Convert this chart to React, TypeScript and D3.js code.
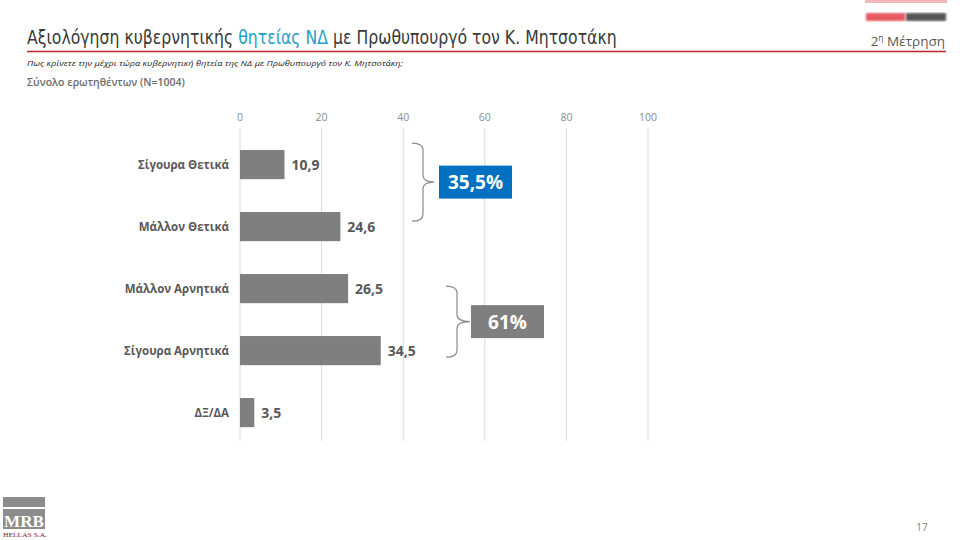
import * as d3 from "d3"

const categories = ["Σίγουρα Θετικά", "Μάλλον Θετικά", "Μάλλον Αρνητικά", "Σίγουρα Αρνητικά", "ΔΞ/ΔΑ"]
const values = [10.9, 24.6, 26.5, 34.5, 3.5]
const ticks = [0, 20, 40, 60, 80, 100]
const groups = [
  { label: "35,5%", from: 0, to: 1, fill: "#0070c0" },
  { label: "61%", from: 2, to: 3, fill: "#7f7f7f" },
]

const fmt = (v: number) => v.toFixed(1).replace(".", ",")

const brace = (x0: number, xv: number, xt: number, y0: number, y1: number) => {
  const mid = (y0 + y1) / 2
  const r = 7
  return `M${x0},${y0} Q${xv},${y0} ${xv},${y0 + r} L${xv},${mid - r} Q${xv},${mid} ${xt},${mid} Q${xv},${mid} ${xv},${mid + r} L${xv},${y1 - r} Q${xv},${y1} ${x0},${y1}`
}

const App = () => {
  const x = d3.scaleLinear().domain([0, 100]).range([240, 648])
  const y = d3.scaleBand().domain(categories).range([133.6, 443.6]).paddingInner(0.53).paddingOuter(0.265)
  const bw = y.bandwidth()
  const font = "'Open Sans', 'Noto Sans', sans-serif"
  const narrow = "'Liberation Sans Narrow', 'DejaVu Sans Condensed', sans-serif"

  // bracket geometry per group
  const braces = [
    { x0: 412, xv: 423, xt: 434, y0: y(categories[0])! - 7, y1: y(categories[1])! + bw - 20, bx: 439, bw: 73 },
    { x0: 446, xv: 457, xt: 470, y0: y(categories[2])! + 12, y1: y(categories[3])! + bw - 8, bx: 471, bw: 73 },
  ]

  return (
    <svg width={960} height={540} style={{ position: "absolute", left: 0, top: 0, background: "#fff" }} fontFamily={font}>
      <defs>
        <filter id="blur">
          <feGaussianBlur stdDeviation={1.2} />
        </filter>
      </defs>
      {/* header, squeezed to the narrow title face */}
      <g transform="translate(27,44) scale(0.873,1)">
        <text x={0} y={0} fontSize={20} fontFamily={narrow} fill="#3a3a3a">
          Αξιολόγηση κυβερνητικής <tspan fill="#1ea0c8">θητείας ΝΔ</tspan> με Πρωθυπουργό τον Κ. Μητσοτάκη
        </text>
      </g>
      <line x1={27} x2={946} y1={51.5} y2={51.5} stroke="#b22a2a" strokeWidth={1.6} />
      <rect x={865} y={0} width={82} height={3} fill="#f0b8b8" />
      <g filter="url(#blur)">
        <rect x={866} y={13} width={39} height={8} fill="#e0303a" opacity={0.8} />
        <rect x={906} y={13} width={40} height={8} fill="#2a2a2a" opacity={0.8} />
      </g>
      <text x={945} y={46} textAnchor="end" fontSize={13.5} fill="#595959">
        2<tspan fontSize={8.5} dy={-5}>η</tspan><tspan dy={5}> Μέτρηση</tspan>
      </text>
      <text x={27} y={66} fontSize={8} fontStyle="italic" fill="#222" textLength={376} lengthAdjust="spacingAndGlyphs">
        Πως κρίνετε την μέχρι τώρα κυβερνητική θητεία της ΝΔ με Πρωθυπουργό τον Κ. Μητσοτάκη;
      </text>
      <text x={27} y={86} fontSize={10.5} fontWeight={600} fill="#6b6b6b">
        Σύνολο ερωτηθέντων (Ν=1004)
      </text>

      {/* grid + ticks */}
      {ticks.map((t) => (
        <g key={t}>
          <line x1={x(t)} x2={x(t)} y1={128} y2={441} stroke="#d9d9d9" strokeWidth={1} />
          <text x={x(t)} y={121} textAnchor="middle" fontSize={10.5} fill="#8c8c8c">
            {t}
          </text>
        </g>
      ))}

      {/* bars */}
      {categories.map((c, i) => (
        <g key={c}>
          <text x={229} y={y(c)! + bw / 2 + 4} textAnchor="end" fontSize={11.5} fontWeight="bold" fill="#595959">
            {c}
          </text>
          <rect x={x(0)} y={y(c)} width={x(values[i]) - x(0)} height={bw} fill="#7f7f7f" />
          <text x={x(values[i]) + 7} y={y(c)! + bw / 2 + 5} fontSize={14} fontWeight="bold" fill="#595959">
            {fmt(values[i])}
          </text>
        </g>
      ))}

      {/* group brackets */}
      {groups.map((g, i) => {
        const b = braces[i]
        const mid = (b.y0 + b.y1) / 2
        return (
          <g key={g.label}>
            <path d={brace(b.x0, b.xv, b.xt, b.y0, b.y1)} fill="none" stroke="#8c8c8c" strokeWidth={1.2} />
            <rect x={b.bx} y={mid - 16.5} width={b.bw} height={33} fill={g.fill} />
            <text x={b.bx + b.bw / 2} y={mid + 7} textAnchor="middle" fontSize={19} fontWeight="bold" fill="#fff">
              {g.label}
            </text>
          </g>
        )
      })}

      {/* footer */}
      <rect x={3} y={497} width={42} height={10} fill="#8c8c8c" />
      <rect x={3} y={509} width={42} height={20} fill="#8c8c8c" />
      <text x={4} y={527} fontSize={17} fontWeight="bold" fill="#fff" fontFamily="'Liberation Serif', serif" textLength={40} lengthAdjust="spacingAndGlyphs">
        MRB
      </text>
      <text x={3} y={537} fontSize={7} fill="#7a2030" fontFamily="'Liberation Serif', serif" textLength={44} lengthAdjust="spacingAndGlyphs">
        HELLAS S.A.
      </text>
      <text x={922} y={531} textAnchor="middle" fontSize={10} fill="#7f7f7f">
        17
      </text>
    </svg>
  )
}

export default App
